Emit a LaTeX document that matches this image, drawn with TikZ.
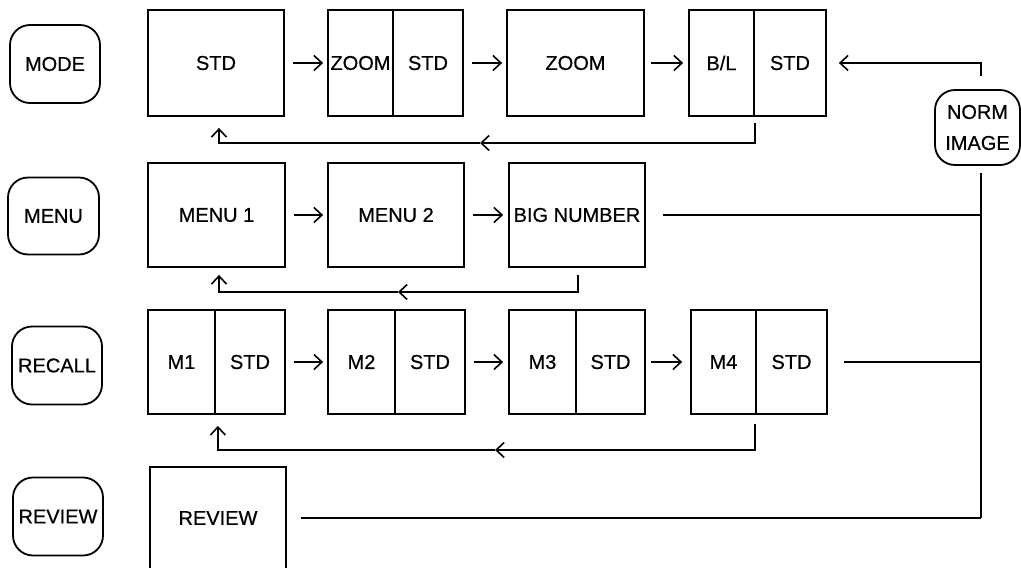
\documentclass[tikz,border=0pt]{standalone}
\usepackage{fontspec}
\setmainfont{Liberation Sans}[FakeBold=0.6]
\usetikzlibrary{arrows.meta}
\begin{document}
\begin{tikzpicture}[x=1pt,y=-1pt,
  cell/.style={draw, line width=1.8pt, inner sep=0pt, font=\fontsize{20}{31}\selectfont},
  btn/.style={draw, line width=1.8pt, rounded corners=20pt, inner sep=0pt, minimum width=90pt, minimum height=78pt, font=\fontsize{20}{31}\selectfont, align=center},
  conn/.style={line width=1.6pt},
  arr/.style={conn, -{Straight Barb[length=8pt,width=15pt]}},
]
\useasboundingbox (0,0) rectangle (1021,568);

% buttons
\node[btn] (bmode) at (55,64) {MODE};
\node[btn, minimum width=91pt, minimum height=77pt] (bmenu) at (53.5,216) {MENU};
\node[btn] (brecall) at (57,365.5) {RECALL};
\node[btn] (breview) at (58,516.5) {REVIEW};
\node[btn, minimum width=85pt, minimum height=75pt] (norm) at (977.5,127.5) {NORM\\IMAGE};

% row 1
\node[cell, minimum width=136pt, minimum height=106pt] (std1) at (216,63) {STD};
\node[cell, minimum width=65pt, minimum height=106pt] (zl) at (360.5,63) {ZOOM};
\node[cell, minimum width=70pt, minimum height=106pt] (zs) at (428,63) {STD};
\node[cell, minimum width=137pt, minimum height=106pt] (zoom) at (575.5,63) {ZOOM};
\node[cell, minimum width=65pt, minimum height=106pt] (bl) at (721.5,63) {B/L};
\node[cell, minimum width=72pt, minimum height=106pt] (bs) at (790,63) {STD};

% row 2
\node[cell, minimum width=137pt, minimum height=104pt] (menu1) at (216.5,215) {MENU 1};
\node[cell, minimum width=136pt, minimum height=104pt] (menu2) at (396,215) {MENU 2};
\node[cell, minimum width=136pt, minimum height=104pt] (big) at (577,215) {BIG NUMBER};

% row 3
\node[cell, minimum width=67pt, minimum height=104pt] (m1) at (181.5,362) {M1};
\node[cell, minimum width=70pt, minimum height=104pt] (s1) at (250,362) {STD};
\node[cell, minimum width=67pt, minimum height=104pt] (m2) at (361.5,362) {M2};
\node[cell, minimum width=70pt, minimum height=104pt] (s2) at (430,362) {STD};
\node[cell, minimum width=67pt, minimum height=104pt] (m3) at (542.5,362) {M3};
\node[cell, minimum width=69pt, minimum height=104pt] (s3) at (610.5,362) {STD};
\node[cell, minimum width=65pt, minimum height=104pt] (m4) at (723.5,362) {M4};
\node[cell, minimum width=71pt, minimum height=104pt] (s4) at (791.5,362) {STD};

% row 4
\node[cell, minimum width=136pt, minimum height=102pt] (review) at (218,518) {REVIEW};

% forward arrows
\draw[arr, shorten <=8pt, shorten >=4pt] (std1.east) -- (zl.west);
\draw[arr, shorten <=8pt, shorten >=4pt] (zs.east) -- (zoom.west);
\draw[arr, shorten <=6pt, shorten >=5pt] (zoom.east) -- (bl.west);
\draw[arr, shorten <=8pt, shorten >=4pt] (menu1.east) -- (menu2.west);
\draw[arr, shorten <=8pt, shorten >=5pt] (menu2.east) -- (big.west);
\draw[arr, shorten <=8pt, shorten >=4pt] (s1.east) -- (m2.west);
\draw[arr, shorten <=8pt, shorten >=5pt] (s2.east) -- (m3.west);
\draw[arr, shorten <=5pt, shorten >=8pt] (s3.east) -- (m4.west);

% feedback loops
\coordinate (f1) at (480,143);
\coordinate (f2) at (398,292);
\coordinate (f3) at (495,450);
\draw[arr, shorten <=6pt] (bl.south east) |- (f1);
\draw[arr, shorten >=11pt] (f1) -| ([xshift=3pt]std1.south);
\draw[arr, shorten <=7pt] ([xshift=1pt]big.south) |- (f2);
\draw[arr, shorten >=7pt] (f2) -| ([xshift=2.5pt]menu1.south);
\draw[arr, shorten <=9pt] (s4.south west) |- (f3);
\draw[arr, shorten >=11pt] (f3) -| ([xshift=2pt]m1.south east);

% norm image
\coordinate (vb) at (981,518);
\draw[arr, shorten <=13pt, shorten >=12pt] ([xshift=3.5pt]norm.north) |- (bs.east);
\draw[conn, shorten <=7pt] ([xshift=3.5pt]norm.south) -- (vb);
\draw[conn, shorten <=17pt] (big.east) -- (big.east -| vb);
\draw[conn, shorten <=16pt] (s4.east) -- (s4.east -| vb);
\draw[conn, shorten <=14pt] (review.east) -- (vb);
\end{tikzpicture}
\end{document}
